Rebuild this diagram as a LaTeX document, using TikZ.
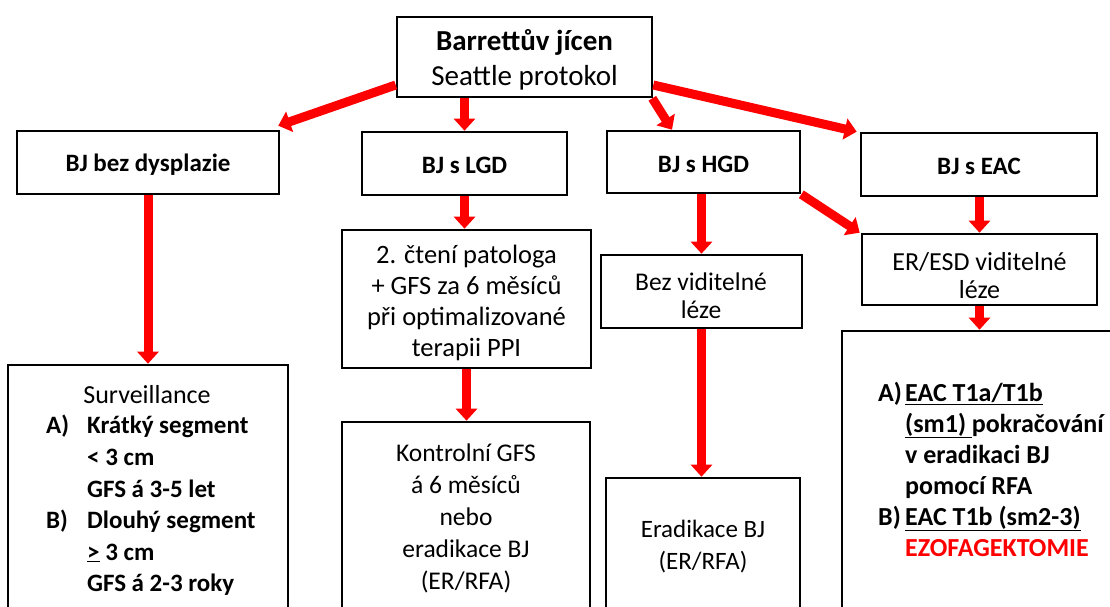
\documentclass[tikz,border=0pt]{standalone}
\usepackage{fontspec}
\setmainfont{Carlito}
\usetikzlibrary{arrows.meta}
\begin{document}
\begin{tikzpicture}[x=1pt,y=-1pt,
  box/.style={draw=black, line width=2.6pt, fill=white, inner sep=0pt},
  rarr/.style={draw=red, line width=9pt, -{Triangle[width=21pt,length=12pt]}},
  ttl/.style={font=\fontsize{25}{29}\selectfont\bfseries, inner sep=0pt, yshift=-2pt},
  txt/.style={font=\fontsize{25}{31}\selectfont, align=center, inner sep=0pt},
  lst/.style={inner sep=0pt, anchor=west},
]
\useasboundingbox (0,0) rectangle (1110,606);
\clip (0,0) rectangle (1110,606);
\fill[white] (0,0) rectangle (1110,606);

% boxes
\node[box, minimum width=255pt, minimum height=80pt] (top) at (524.5,57) {};
\node[box, minimum width=262pt, minimum height=63pt] (nobias) at (148,162.5) {};
\node[box, minimum width=205pt, minimum height=63pt] (lgd) at (464.5,163.5) {};
\node[box, minimum width=193pt, minimum height=62pt] (hgd) at (703.5,162) {};
\node[box, minimum width=236pt, minimum height=63pt] (eac) at (979,164.5) {};
\node[box, minimum width=249pt, minimum height=138pt] (patol) at (466.5,299) {};
\node[box, minimum width=201pt, minimum height=73pt] (bezlez) at (701.5,291.5) {};
\node[box, minimum width=235pt, minimum height=71pt] (erl) at (979.5,269.5) {};
\node[box, minimum width=280pt, minimum height=275pt] (surv) at (148,502.5) {};
\node[box, minimum width=248pt, minimum height=218pt] (kontrol) at (466,531) {};
\node[box, minimum width=194pt, minimum height=162pt] (erad) at (703,559) {};
\node[box, minimum width=298pt, minimum height=309pt] (eacbox) at (991,485.5) {};

% texts
\node[inner sep=0pt, align=center, font=\fontsize{29}{35}\selectfont] (toptxt) at (524.5,60)
  {\textbf{Barrettův jícen}\\Seattle protokol};
\node[ttl] (nobiastxt) at (nobias.center) {BJ bez dysplazie};
\node[ttl] (lgdtxt) at (lgd.center) {BJ s LGD};
\node[ttl] (hgdtxt) at (hgd.center) {BJ s HGD};
\node[ttl] (eactxt) at (eac.center) {BJ s EAC};
\node[txt, font=\fontsize{26.5}{31}\selectfont] (patoltxt) at (466.5,303) {2. čtení patologa\\+ GFS za 6 měsíců\\při optimalizované\\terapii PPI};
\node[txt, font=\fontsize{25.5}{28}\selectfont] (bezleztxt) at (701,296) {Bez viditelné\\léze};
\node[txt, font=\fontsize{26}{28}\selectfont] (erltxt) at (979.5,275.5) {ER/ESD viditelné\\léze};
\node[txt, font=\fontsize{25.5}{32}\selectfont] (kontroltxt) at (466,518) {Kontrolní GFS\\á 6 měsíců\\nebo\\eradikace BJ\\(ER/RFA)};
\node[txt, font=\fontsize{25}{32}\selectfont] (eradtxt) at (703,547) {Eradikace BJ\\(ER/RFA)};
\node[txt, font=\fontsize{26}{31}\selectfont] (survtitle) at (147,395) {Surveillance};
\node[lst, font=\fontsize{25}{31.6}\selectfont\bfseries] (survlist) at (46,506.5) {\begin{tabular}{@{}p{41pt}@{}l@{}}
A) & Krátký segment\\
   & < 3 cm\\
   & GFS á 3-5 let\\
B) & Dlouhý segment\\
   & \underline{>} 3 cm\\
   & GFS á 2-3 roky
\end{tabular}};
\node[lst, font=\fontsize{26}{31}\selectfont\bfseries] (eaclist) at (878,472.5) {\begin{tabular}{@{}p{27pt}@{}l@{}}
A) & \underline{EAC T1a/T1b}\\
   & \underline{(sm1)\ }pokračování\\
   & v eradikaci BJ\\
   & pomocí RFA\\
B) & \underline{EAC T1b (sm2-3)}\\
   & \textcolor{red}{EZOFAGEKTOMIE}
\end{tabular}};

% arrows
\draw[rarr] ([yshift=-28pt]top.west) -- ([shift={(-2pt,4pt)}]nobias.north east);
\draw[rarr] (top.south -| lgd.north) -- (lgd.north);
\draw[rarr] ([xshift=-1pt]top.south east) -- ([xshift=-31.5pt]hgd.north);
\draw[rarr] ([yshift=-28pt]top.east) -- ([xshift=-3pt]eac.north west);
\draw[rarr] (nobias.south) -- (surv.north);
\draw[rarr] (lgd.south) -- (lgd.south |- patol.north);
\draw[rarr] (patol.south) -- (patol.south |- kontrol.north);
\draw[rarr] (hgd.south -| bezlez.north) -- (bezlez.north);
\draw[rarr] (bezlez.south) -- (bezlez.south |- erad.north);
\draw[rarr] (hgd.south east) -- ([xshift=-1pt]erl.north west);
\draw[rarr] (eac.south -| erl.north) -- (erl.north);
\draw[rarr] (erl.south) -- (erl.south |- eacbox.north);
\end{tikzpicture}
\end{document}
